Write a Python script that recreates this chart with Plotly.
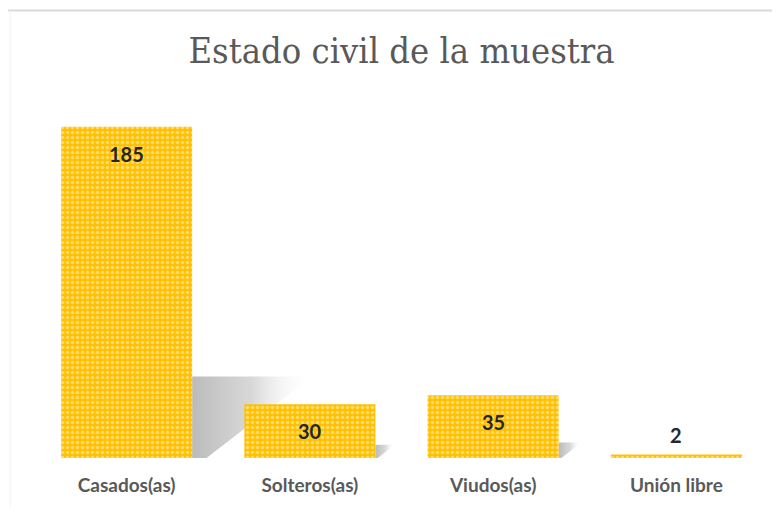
import plotly.graph_objects as go

# ---- data ----
categories = ["Casados(as)", "Solteros(as)", "Viudos(as)", "Unión libre"]
values = [185, 30, 35, 2]
title_text = "Estado civil de la muestra"

# ---- layout constants (page has an 8px body margin) ----
OFF = 8
W, H = 780 - OFF, 508 - OFF
ML, MR, MT, MB = 35 - OFF, 12, 100 - OFF, 48
Y_MAX = 200
BAR_W = 0.715
PLOT_H = H - MT - MB
PX_PER_UNIT = PLOT_H / Y_MAX

fig = go.Figure()

# shadows (drawn on base axes, below the bars)
for i, v in enumerate(values):
    right = i + BAR_W / 2
    h = 0.246 * v
    dx = 0.655 * v / 185
    if dx < 0.02:
        continue
    xs = [right, right, right + dx, right + 0.12 * dx, right]
    ys = [0, h, h, 0, 0]
    fig.add_trace(go.Scatter(
        x=xs, y=ys, xaxis="x", yaxis="y", mode="lines", fill="toself",
        line=dict(width=0, color="rgba(0,0,0,0)"),
        fillgradient=dict(type="horizontal",
                          colorscale=[[0, "rgba(170,170,170,0.8)"],
                                      [0.5, "rgba(190,190,190,0.6)"],
                                      [1, "rgba(255,255,255,0)"]]),
        hoverinfo="skip", showlegend=False))

# bars on overlaid axis so they sit above the shadows
fig.add_trace(go.Bar(
    x=list(range(len(categories))), y=values, width=BAR_W,
    xaxis="x", yaxis="y2",
    marker=dict(color="#FFC000",
                line=dict(width=0),
                pattern=dict(shape=".", fgcolor="#FFF6D5", bgcolor="#FFC000",
                             size=5, solidity=0.4)),
    showlegend=False, hoverinfo="skip"))

# data labels
for i, v in enumerate(values):
    bar_px = v * PX_PER_UNIT
    shift = -27 if bar_px > 40 else 19
    fig.add_annotation(x=i, y=v, xref="x", yref="y2", text=f"<b>{v}</b>",
                       showarrow=False, yshift=shift, yanchor="middle",
                       font=dict(family="Lato, Carlito, sans-serif", size=20, color="#262626"))

# border lines (top and left)
def px_to_paper_x(px):
    return (px - OFF - ML) / (W - ML - MR)

def py_to_paper_y(py):
    return (H - MB - (py - OFF)) / PLOT_H

fig.add_shape(type="line", xref="paper", yref="paper",
              x0=px_to_paper_x(8), x1=px_to_paper_x(781),
              y0=py_to_paper_y(10), y1=py_to_paper_y(10),
              line=dict(color="#D9D9D9", width=2))
fig.add_shape(type="line", xref="paper", yref="paper",
              x0=px_to_paper_x(10), x1=px_to_paper_x(10),
              y0=py_to_paper_y(10), y1=py_to_paper_y(510),
              line=dict(color="#F2F2F2", width=1))

fig.update_layout(
    width=W, height=H,
    margin=dict(l=ML, r=MR, t=MT, b=MB),
    paper_bgcolor="white", plot_bgcolor="white",
    title=dict(text=title_text, x=0.5, xref="paper", xanchor="center",
               y=1 - (50 - OFF) / H, yref="container", yanchor="middle",
               font=dict(family="DejaVu Serif Condensed, DejaVu Serif, serif", size=36, color="#595959")),
    xaxis=dict(range=[-0.5, len(categories) - 0.5], tickvals=list(range(len(categories))),
               ticktext=[f"<b>{c}</b>" for c in categories], showgrid=False, zeroline=False,
               showline=False, ticks="", ticklabelstandoff=14,
               tickfont=dict(family="Lato, Carlito, sans-serif", size=19, color="#595959")),
    yaxis=dict(range=[0, Y_MAX], visible=False, showgrid=False, zeroline=False),
    yaxis2=dict(range=[0, Y_MAX], overlaying="y", visible=False, showgrid=False, zeroline=False),
)

fig.write_html("out.html")
